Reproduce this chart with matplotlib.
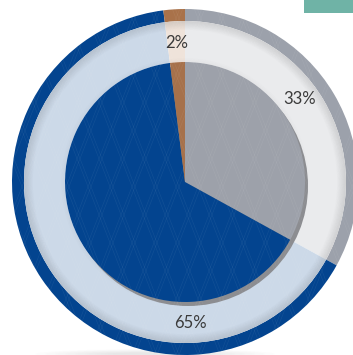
import matplotlib
matplotlib.use("Agg")
import matplotlib.pyplot as plt
import numpy as np
from matplotlib.patches import Circle, Wedge, Rectangle, Ellipse
from matplotlib.collections import LineCollection

# share of each slice, clockwise from 12 o'clock
labels = ["33%", "65%", "2%"]
shares = [33, 65, 2]

ring_colors = ["#9ca1ab", "#03448f", "#a9724a"]
band_colors = ["#eaebed", "#ccd9e8", "#efe3da"]
pie_colors = ["#9da1aa", "#03448f", "#a6714b"]

# where the percentage text sits (pixels, y up)
label_xy = {"33%": (300, 256), "65%": (190, 32), "2%": (177, 312)}

cx, cy = 185, 173
r_out, r_band, r_pie = 173, 161, 120

fig = plt.figure(figsize=(3.53, 3.55), dpi=100)
ax = fig.add_axes([0, 0, 1, 1])

# soft floor shadow under the disc
for i in range(8):
    ax.add_patch(Ellipse((cx - 30, 1), 240 - i * 20, 10 - i, color="#000000",
                         alpha=0.012, lw=0, zorder=0))

ax.pie(shares, colors=ring_colors, startangle=90, counterclock=False,
       radius=r_out, center=(cx, cy), wedgeprops=dict(width=r_out - r_band, lw=0))
ax.pie(shares, colors=band_colors, startangle=90, counterclock=False,
       radius=r_band, center=(cx, cy), wedgeprops=dict(width=r_band - r_pie, lw=0))

# shading on the light band: darker near the outer ring, a little near the pie
for i in range(9):
    ax.add_patch(Wedge((cx, cy), r_band - i, 0, 360, width=1, color="#000000",
                       alpha=0.11 * (1 - i / 9), lw=0, zorder=3))
for i in range(4):
    ax.add_patch(Wedge((cx, cy), r_pie + 4 - i, 0, 360, width=1, color="#000000",
                       alpha=0.025 * (i + 1) / 4, lw=0, zorder=3))

# drop shadow of the inner pie
ax.add_patch(Circle((cx + 3, cy - 4), r_pie, color="#8c8d91", lw=0, zorder=4))

wedges, _ = ax.pie(shares, colors=pie_colors, startangle=90, counterclock=False,
                   radius=r_pie, center=(cx, cy), wedgeprops=dict(lw=0))
for w in wedges:
    w.set_zorder(5)

# faint diamond texture over the whole disc
segs = []
step, slope = 22, 2.55
for k in range(-40, 60):
    for off in (0, 3):
        x0 = k * step + off
        segs.append([(x0, 0), (x0 + 400 / slope, 400)])
        segs.append([(x0, 0), (x0 - 400 / slope, 400)])
lc = LineCollection(segs, colors="white", linewidths=0.5, alpha=0.06, zorder=6)
ax.add_collection(lc)
lc.set_clip_path(Circle((cx, cy), r_out, transform=ax.transData))

for lab in labels:
    x, y = label_xy[lab]
    ax.text(x, y, lab, ha="center", va="center", fontsize=12, family="Lato",
            color="#3a3a3a", zorder=7)

ax.add_patch(Rectangle((304, 342), 60, 14, color="#6fb3a6", lw=0, zorder=8))

ax.set_xlim(0, 353)
ax.set_ylim(0, 355)
ax.set_aspect("equal")
ax.axis("off")
fig.savefig("out.png", dpi=100)
